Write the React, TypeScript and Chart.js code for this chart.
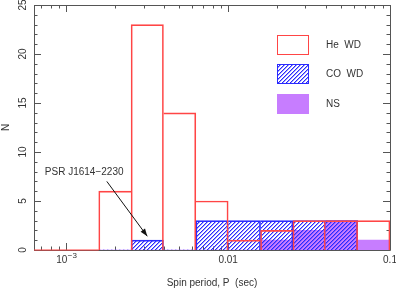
import React, { useEffect, useRef } from "react";
import { Chart, registerables } from "chart.js";
Chart.register(...registerables);

// Histogram bins in log10(P / sec)
const binEdgesLogP = [-2.8, -2.6, -2.4, -2.2, -2.0, -1.8, -1.6, -1.4, -1.2, -1.0];
const heWD = [6, 23, 14, 5, 1, 2, 3, 3, 3];
const coWD = [0, 1, 0, 3, 3, 3, 3, 3, 0];
const nsPSR = [0, 0, 0, 0, 0, 1, 2, 3, 1];
const xDecades = [-3, -2, -1];
const xDecadeLabels = [["10", "\u22123"], ["0.01", ""], ["0.1", ""]];
const yTickValues = [0, 5, 10, 15, 20, 25];
const seriesNames = ["He  WD", "CO  WD", "NS"];
const annotationText = "PSR J1614\u22122230";
const X_MIN = -3.2;
const X_MAX = -1.0;
const Y_MAX = 25;

const FONT = "'Liberation Sans', Arial, sans-serif";
const TEXT = "#333";
const FRAME = "#555";
const RED = "#ff4545";
const BLUE = "#2a2aff";
const BLUE_SOFT = "rgba(42,42,255,0.45)";
const PURPLE = "#c77dff";

function makeHatch(): CanvasPattern | string {
  const s = 4;
  const c = document.createElement("canvas");
  c.width = s;
  c.height = s;
  const g = c.getContext("2d");
  if (!g) return BLUE;
  g.clearRect(0, 0, s, s);
  for (let x = 0; x < s; x++) {
    for (let y = 0; y < s; y++) {
      const d = (x + y) % s;
      if (d === 0) {
        g.fillStyle = BLUE;
        g.fillRect(x, y, 1, 1);
      } else if (d === 1) {
        g.fillStyle = BLUE_SOFT;
        g.fillRect(x, y, 1, 1);
      }
    }
  }
  const p = g.createPattern(c, "repeat");
  return p || BLUE;
}

const centers = binEdgesLogP.slice(0, -1).map((e, i) => (e + binEdgesLogP[i + 1]) / 2);

// shared bin edges are drawn once, by the taller neighbour
function edgeBorders(counts: number[]) {
  return (ctx: any) => {
    const i = ctx.dataIndex;
    const h = counts[i] || 0;
    const prev = i > 0 ? counts[i - 1] : 0;
    const next = i < counts.length - 1 ? counts[i + 1] : 0;
    return { top: 1, bottom: 0, left: prev < h ? 1 : 0, right: next <= h ? 1 : 0 };
  };
}

export default function App() {
  const ref = useRef<HTMLCanvasElement | null>(null);
  useEffect(() => {
    document.body.style.margin = "0";
    const canvas = ref.current;
    if (!canvas) return;
    const hatch = makeHatch();

    // zero-count He WD baseline left of the first bin
    const leadingZero = [
      { x: X_MIN, y: 0 },
      { x: binEdgesLogP[0], y: 0 },
    ];

    const framePlugin = {
      id: "frameTicks",
      beforeDatasetsDraw(chart: any) {
        const { ctx, chartArea } = chart;
        const { left, right, top, bottom } = chartArea;
        const xs = chart.scales.x;
        const ys = chart.scales.y;
        ctx.save();
        ctx.strokeStyle = FRAME;
        ctx.lineWidth = 1;
        ctx.beginPath();
        ctx.rect(Math.round(left) + 0.5, Math.round(top) + 0.5, Math.round(right - left), Math.round(bottom - top));
        for (let v = 0; v <= Y_MAX; v++) {
          const py = Math.round(ys.getPixelForValue(v)) + 0.5;
          const len = v % 5 === 0 ? 7 : 3.5;
          ctx.moveTo(left, py);
          ctx.lineTo(left + len, py);
          ctx.moveTo(right, py);
          ctx.lineTo(right - len, py);
        }
        for (let n = -4; n <= -1; n++) {
          for (let k = 1; k <= 9; k++) {
            const v = n + Math.log10(k);
            if (v < X_MIN - 1e-9 || v > X_MAX + 1e-9) continue;
            const px = Math.round(xs.getPixelForValue(v)) + 0.5;
            const len = k === 1 ? 7 : 3.5;
            ctx.moveTo(px, bottom);
            ctx.lineTo(px, bottom - len);
            ctx.moveTo(px, top);
            ctx.lineTo(px, top + len);
          }
        }
        ctx.stroke();
        // rotated y tick labels
        ctx.fillStyle = TEXT;
        ctx.font = `10px ${FONT}`;
        ctx.textAlign = "center";
        ctx.textBaseline = "middle";
        for (const v of yTickValues) {
          ctx.save();
          ctx.translate(left - 11, ys.getPixelForValue(v));
          ctx.rotate(-Math.PI / 2);
          ctx.fillText(String(v), 0, 0);
          ctx.restore();
        }
        // x tick labels (with superscript exponent)
        ctx.textBaseline = "alphabetic";
        ctx.textAlign = "left";
        xDecades.forEach((v, i) => {
          const [base, sup] = xDecadeLabels[i];
          const px = xs.getPixelForValue(v);
          const by = bottom + 13;
          ctx.font = `10px ${FONT}`;
          const wb = ctx.measureText(base).width;
          const x0 = px - (sup ? wb - 1 : wb / 2);
          ctx.fillText(base, x0, by);
          if (sup) {
            ctx.font = `8px ${FONT}`;
            ctx.fillText(sup, x0 + wb + 0.5, by - 5);
          }
        });
        ctx.restore();
      },
      afterDatasetsDraw(chart: any) {
        const { ctx, chartArea } = chart;
        const xs = chart.scales.x;
        const ys = chart.scales.y;
        ctx.save();
        // annotation
        ctx.font = `10px ${FONT}`;
        ctx.fillStyle = TEXT;
        ctx.textAlign = "center";
        ctx.textBaseline = "middle";
        ctx.fillText(annotationText, xs.getPixelForValue(-2.89), ys.getPixelForValue(7.9));
        const x0 = xs.getPixelForValue(-2.75), y0 = ys.getPixelForValue(7.0);
        const x1 = xs.getPixelForValue(-2.5), y1 = ys.getPixelForValue(1.4);
        ctx.strokeStyle = "#111";
        ctx.fillStyle = "#111";
        ctx.lineWidth = 1;
        ctx.beginPath();
        ctx.moveTo(x0, y0);
        ctx.lineTo(x1, y1);
        ctx.stroke();
        const a = Math.atan2(y1 - y0, x1 - x0);
        const hl = 8, hw = 0.35;
        ctx.beginPath();
        ctx.moveTo(x1, y1);
        ctx.lineTo(x1 - hl * Math.cos(a - hw), y1 - hl * Math.sin(a - hw));
        ctx.lineTo(x1 - hl * Math.cos(a + hw), y1 - hl * Math.sin(a + hw));
        ctx.closePath();
        ctx.fill();
        // legend
        const bx = chartArea.left + 243;
        const tops = [35, 64, 94];
        const fills: any[] = ["#ffffff", hatch, PURPLE];
        const strokes = [RED, BLUE, null];
        for (let i = 0; i < 3; i++) {
          const ty = tops[i];
          ctx.fillStyle = "#ffffff";
          ctx.fillRect(bx, ty, 32, 20);
          ctx.fillStyle = fills[i];
          ctx.fillRect(bx, ty, 32, 20);
          if (strokes[i]) {
            ctx.strokeStyle = strokes[i] as string;
            ctx.lineWidth = 1;
            ctx.strokeRect(bx + 0.5, ty + 0.5, 31, 19);
          }
          ctx.fillStyle = TEXT;
          ctx.textAlign = "left";
          ctx.textBaseline = "middle";
          ctx.font = `10px ${FONT}`;
          ctx.fillText(seriesNames[i], bx + 49, ty + 10);
        }
        ctx.restore();
      },
    };

    const chart = new Chart(canvas, {
      type: "bar",
      data: {
        datasets: [
          {
            type: "line",
            label: "He baseline",
            data: leadingZero,
            borderColor: RED,
            borderWidth: 1.2,
            pointRadius: 0,
            fill: false,
            clip: false,
            order: 0,
          } as any,
          {
            label: seriesNames[0],
            data: centers.map((c, i) => ({ x: c, y: heWD[i] })),
            backgroundColor: "rgba(0,0,0,0)",
            borderColor: RED,
            borderWidth: edgeBorders(heWD),
            borderSkipped: false,
            grouped: false,
            barPercentage: 1,
            categoryPercentage: 1,
            order: 1,
          },
          {
            label: seriesNames[1],
            data: centers.map((c, i) => ({ x: c, y: coWD[i] })),
            backgroundColor: hatch as any,
            borderColor: BLUE,
            borderWidth: edgeBorders(coWD),
            borderSkipped: false,
            grouped: false,
            barPercentage: 1,
            categoryPercentage: 1,
            order: 2,
          },
          {
            label: seriesNames[2],
            data: centers.map((c, i) => ({ x: c, y: nsPSR[i] })),
            backgroundColor: PURPLE,
            borderWidth: 0,
            grouped: false,
            barPercentage: 1,
            categoryPercentage: 1,
            order: 3,
          },
        ],
      },
      options: {
        responsive: false,
        animation: false,
        layout: { padding: { top: 5, right: 6, left: 0, bottom: 0 } },
        plugins: { legend: { display: false }, tooltip: { enabled: false } },
        scales: {
          x: {
            type: "linear",
            min: X_MIN,
            max: X_MAX,
            offset: false,
            grid: { display: false },
            border: { display: false },
            afterBuildTicks: (s: any) => {
              s.ticks = xDecades.map((v) => ({ value: v }));
            },
            afterFit: (s: any) => {
              s.height = 41;
            },
            ticks: { display: false },
            title: {
              display: true,
              text: "Spin period, P  (sec)",
              color: TEXT,
              font: { family: FONT, size: 10 },
              padding: { top: 0, bottom: 2 },
            },
          },
          y: {
            min: 0,
            max: Y_MAX,
            grid: { display: false },
            border: { display: false },
            afterFit: (s: any) => {
              s.width = 34;
            },
            ticks: {
              stepSize: 5,
              display: false,
            },
            title: {
              display: true,
              text: "N",
              color: TEXT,
              font: { family: FONT, size: 10 },
              padding: { top: 0, bottom: 0 },
            },
          },
        },
      },
      plugins: [framePlugin],
    } as any);
    return () => chart.destroy();
  }, []);
  return (
    <div style={{ position: "fixed", left: 0, top: 0, width: 396, height: 291, background: "#fff" }}>
      <canvas ref={ref} width={396} height={291} style={{ display: "block" }} />
    </div>
  );
}
